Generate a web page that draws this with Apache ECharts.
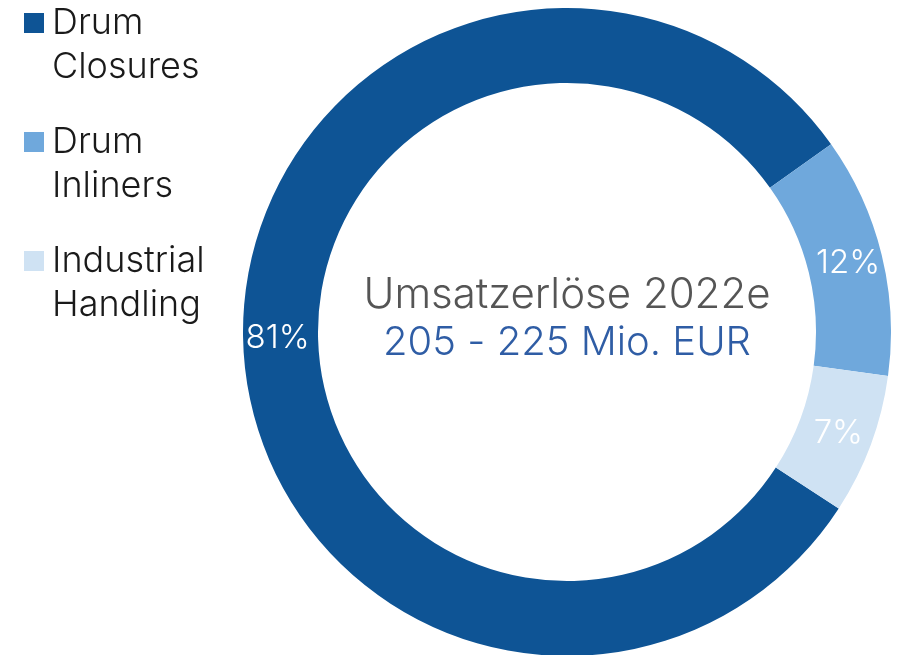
<!DOCTYPE html>
<html><head><meta charset="utf-8">
<script src="https://cdn.jsdelivr.net/npm/echarts@6/dist/echarts.min.js"></script>
<style>html,body{margin:0;padding:0;background:#fff}#c{width:903px;height:655px}</style>
</head><body><div id="c"></div>
<script>
const categories = ['Drum Closures', 'Drum Inliners', 'Industrial Handling'];
const legendLabels = ['Drum\nClosures', 'Drum\nInliners', 'Industrial\nHandling'];
const values = [81, 12, 7];
const colors = ['#0E5495', '#6FA8DC', '#CFE2F3'];
const centerTitle = 'Umsatzerlöse 2022e';
const centerSub = '205 - 225 Mio. EUR';

const FONT = 'Inter';
const chart = echarts.init(document.getElementById('c'));
chart.setOption({
  animation: false,
  color: colors,
  title: {
    text: centerTitle,
    subtext: centerSub,
    left: 567,
    top: 274,
    padding: 0,
    textAlign: 'center',
    itemGap: 7,
    textStyle: { fontFamily: FONT, fontSize: 42, fontWeight: 300, color: '#555555' },
    subtextStyle: { fontFamily: FONT, fontSize: 40, fontWeight: 300, color: '#2F5DA5' }
  },
  legend: {
    orient: 'vertical',
    left: 24,
    top: 1,
    padding: 0,
    itemWidth: 23,
    itemHeight: 88,
    itemGap: 31,
    icon: 'path://M0,0L23,0M0,12H20V32H0ZM0,88L23,88',
    formatter: function (name) { return legendLabels[categories.indexOf(name)]; },
    textStyle: { fontFamily: FONT, fontSize: 36, fontWeight: 300, lineHeight: 44, color: '#1a1a1a' },
    itemStyle: { borderWidth: 0 }
  },
  series: [{
    type: 'pie',
    center: [567, 332],
    radius: [249, 324],
    startAngle: 327,
    clockwise: true,
    avoidLabelOverlap: false,
    label: {
      show: true,
      position: 'inside',
      formatter: '{c}%',
      color: '#ffffff',
      fontFamily: FONT,
      fontWeight: 300,
      fontSize: 33
    },
    labelLine: { show: false },
    itemStyle: { borderWidth: 0 },
    emphasis: { disabled: true },
    data: categories.map((n, i) => ({ name: n, value: values[i] }))
  }]
});
</script></body></html>
